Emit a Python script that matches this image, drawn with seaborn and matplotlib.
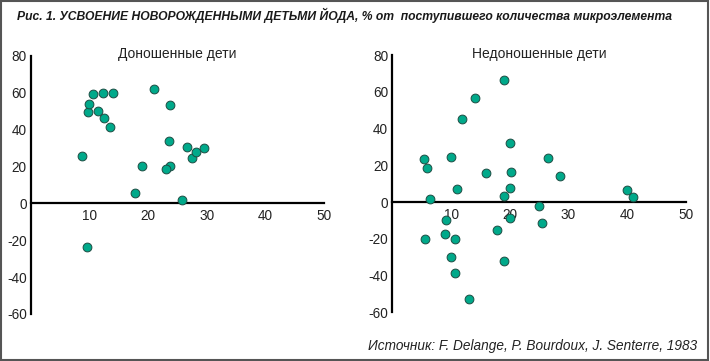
import numpy as np
import pandas as pd
import matplotlib.pyplot as plt
import seaborn as sns
from matplotlib.patches import Rectangle

# Full-term infants: birth weight-related x vs iodine absorption, %
term_x = [8.7, 9.7, 9.9, 10.6, 11.5, 12.2, 12.5, 13.5, 14.0, 21.0, 23.7,
          23.6, 23.7, 23.0, 18.9, 17.7, 25.7, 26.7, 27.4, 28.1, 29.6, 9.5]
term_y = [25.5, 49.3, 53.7, 59.2, 50.2, 59.6, 46.1, 41.2, 60.0, 62.0, 53.3,
          33.6, 20.4, 18.8, 20.1, 5.4, 1.6, 30.5, 24.7, 27.6, 30.1, -23.7]

# Premature infants
pre_x = [5.45, 5.96, 6.4, 10.0, 11.0, 11.9, 14.0, 15.95, 19.0, 20.1, 20.2,
         20.1, 18.96, 26.5, 28.55, 39.9, 41.0, 25.0, 9.14, 20.0, 25.5, 5.5,
         8.9, 10.6, 17.9, 10.0, 19.0, 10.6, 13.0]
pre_y = [23.2, 18.5, 1.6, 24.5, 6.9, 45.3, 56.4, 16.0, 66.4, 32.1, 16.5,
         7.4, 3.5, 23.9, 14.1, 6.3, 2.5, -2.2, -10.0, -8.9, -11.3, -20.0,
         -17.2, -20.3, -15.2, -29.8, -31.9, -38.5, -53.0]

panel_titles = ['Доношенные дети', 'Недоношенные дети']
x_ticks = [10, 20, 30, 40, 50]
y_ticks = [-60, -40, -20, 0, 20, 40, 60, 80]

sns.set_style('white')
plt.rcParams['font.family'] = ['Liberation Sans', 'DejaVu Sans']
plt.rcParams['axes.unicode_minus'] = False

fig = plt.figure(figsize=(7.10, 3.61), dpi=100)
ax1 = fig.add_axes([0.0437, 0.1302, 0.4127, 0.7155])
ax2 = fig.add_axes([0.5525, 0.1350, 0.4137, 0.7126])

dot = '#00a98a'
edge = '#1d4d43'
panels = [(ax1, term_x, term_y), (ax2, pre_x, pre_y)]
for (ax, xs, ys), title in zip(panels, panel_titles):
    df = pd.DataFrame({'x': xs, 'y': ys})
    sns.scatterplot(data=df, x='x', y='y', ax=ax, color=dot, edgecolor=edge,
                    linewidth=0.7, s=40, clip_on=False, zorder=3)
    ax.set_xlim(0, 50)
    ax.set_ylim(-60, 80)
    ax.set_xticks(x_ticks)
    ax.set_yticks(y_ticks)
    ax.set_xlabel('')
    ax.set_ylabel('')
    for side in ['top', 'right']:
        ax.spines[side].set_visible(False)
    ax.spines['bottom'].set_position(('data', 0))
    for side in ['left', 'bottom']:
        ax.spines[side].set_linewidth(1.6)
        ax.spines[side].set_color('black')
    ax.tick_params(axis='both', direction='in', length=5, width=0.9,
                   labelsize=9.8, colors='black', labelcolor='#222222')
    ax.tick_params(axis='y', pad=3)
    ax.tick_params(axis='x', pad=4)
    ax.set_facecolor('none')
    ax.text(0.5, 1.005, title, transform=ax.transAxes, ha='center', va='center',
            fontsize=10, color='#222222')

fig.text(0.024, 0.958, 'Рис. 1. УСВОЕНИЕ НОВОРОЖДЕННЫМИ ДЕТЬМИ ЙОДА, % от  поступившего количества микроэлемента',
         fontweight='bold', fontstyle='italic',
         fontsize=8.7, ha='left', va='center', color='#1a1a1a')
fig.text(0.982, 0.042, 'Источник: F. Delange, P. Bourdoux, J. Senterre, 1983',
         fontstyle='italic', fontsize=9.8, ha='right', va='center', color='#222222')

fig.patches.append(Rectangle((0.002, 0.004), 0.995, 0.993, transform=fig.transFigure,
                             fill=False, edgecolor='#555555', linewidth=1.5))

fig.savefig('out.png', dpi=100)
